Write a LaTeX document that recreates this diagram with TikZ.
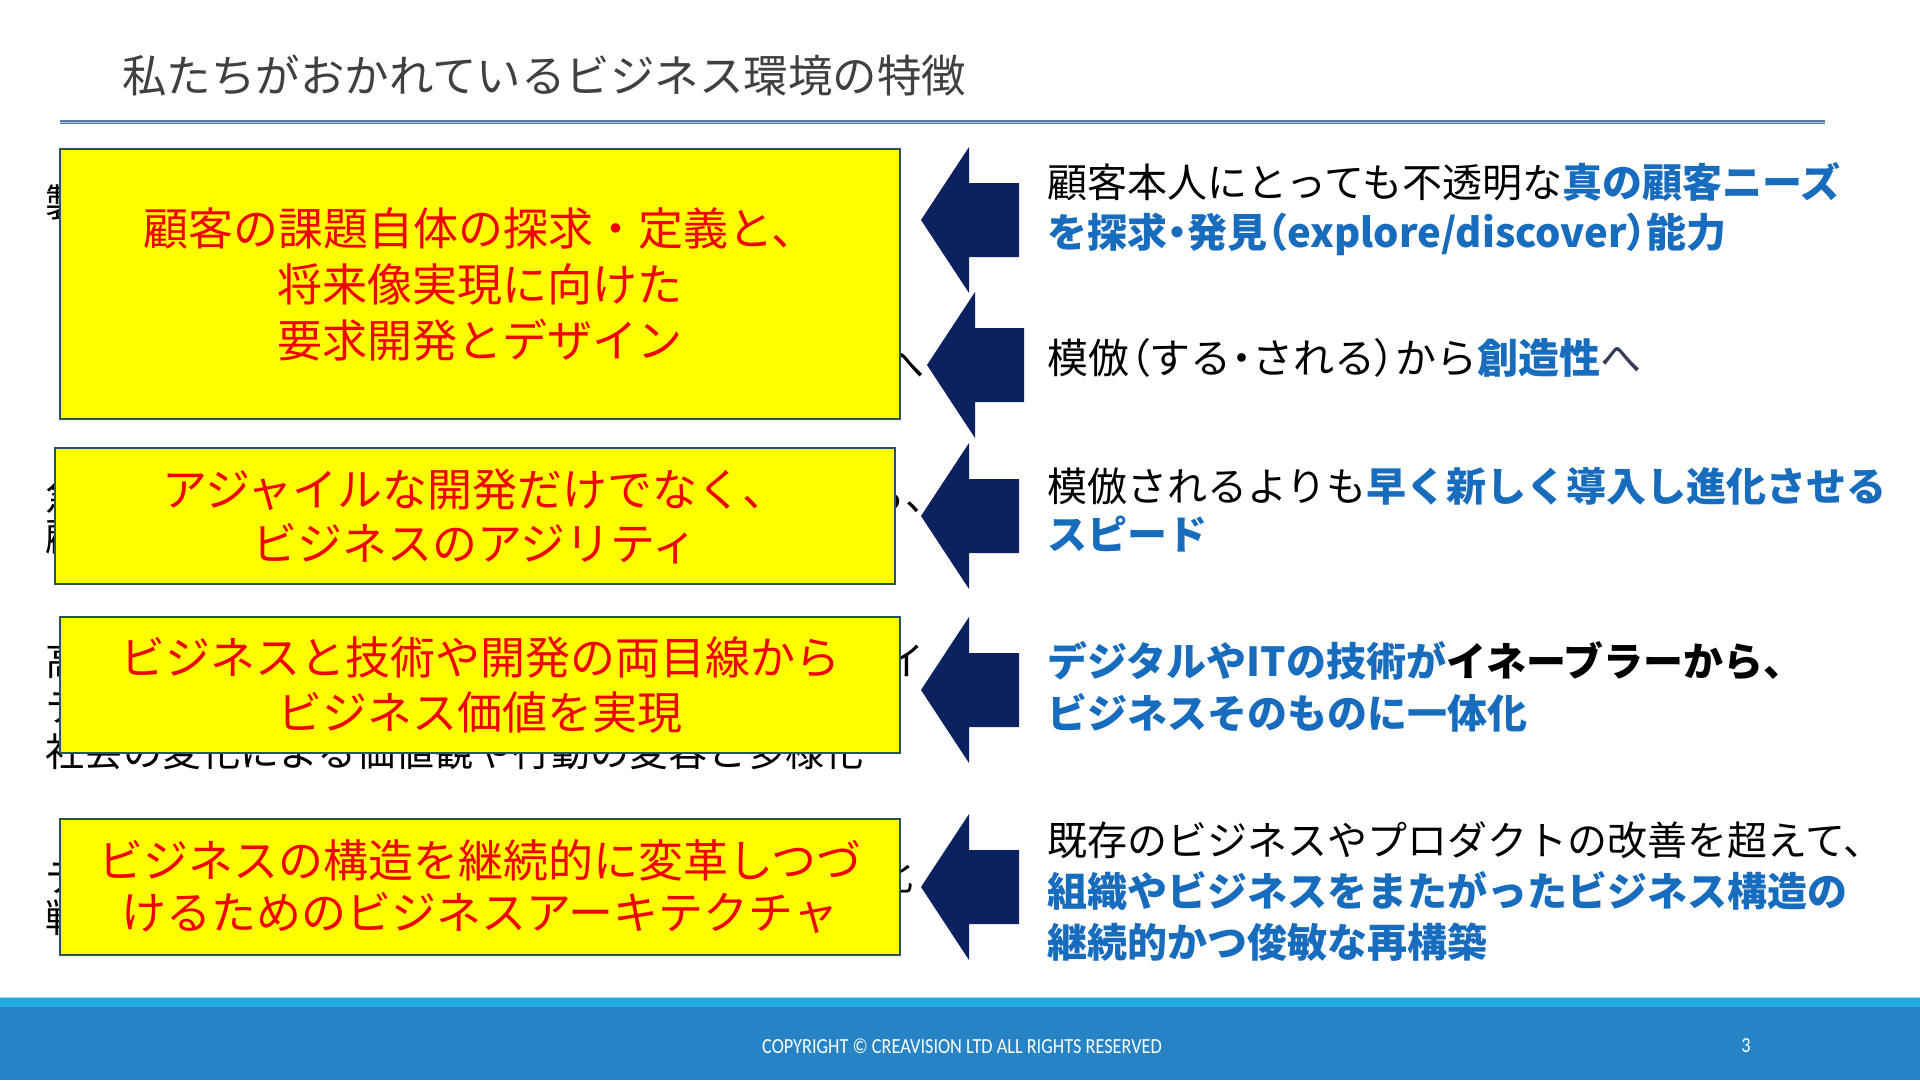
\documentclass[tikz,border=0pt]{standalone}
\usepackage{fontspec}
\setmainfont{Noto Sans CJK JP}
\newfontfamily\footfont{Carlito}[FakeStretch=0.85]
\definecolor{navy}{RGB}{11,33,96}
\definecolor{ylw}{RGB}{255,255,0}
\definecolor{boxline}{RGB}{40,85,85}
\definecolor{rtxt}{RGB}{240,0,0}
\definecolor{bl}{RGB}{23,108,189}
\definecolor{ttl}{RGB}{64,64,64}
\definecolor{rulec}{RGB}{80,125,165}
\definecolor{foot}{RGB}{38,132,198}
\definecolor{footlt}{RGB}{31,171,226}
\definecolor{slate}{RGB}{55,60,90}
\tikzset{
  frag/.style={inner sep=0pt, font=\fontsize{39}{45}\selectfont, text=black},
  ybox/.style={draw=boxline, line width=2pt, fill=ylw, text=rtxt, align=center,
     minimum width=840pt, font=\fontsize{45}{56}\selectfont, inner sep=0pt},
  rtext/.style={anchor=west, align=left, inner sep=0pt, font=\fontsize{40}{50}\selectfont, text=black},
  arr/.style={fill=navy},
  foottxt/.style={text=white, font=\footfont\fontsize{21.5}{26}\selectfont, inner sep=0pt}
}
\newcommand{\hb}[1]{\textbf{\color{bl}#1}}
\newcommand{\pn}[1]{{\addfontfeature{RawFeature=+palt}#1}}
\begin{document}
\begin{tikzpicture}[x=1pt,y=-1pt]
\useasboundingbox (0,0) rectangle (1920,1080);
\fill[white] (0,0) rectangle (1920,1080);
% title
\node[anchor=west, inner sep=0pt, text=ttl, font=\fontsize{44.5}{50}\selectfont] (title) at (122,76) {私たちがおかれているビジネス環境の特徴};
\draw[rulec, line width=4pt] (60,122) -- (1825,122);
\draw[white!55!rulec, line width=1pt] (60,122) -- (1825,122);
% hidden left text fragments
\node[frag, anchor=west] (f1) at (45,203) {製};
\node[frag] (f2) at (905,366) {へ};
\node[frag, anchor=west] (f3) at (45,496) {急};
\node[frag, anchor=west] (f4) at (866,496) {ら、};
\node[frag, anchor=west] (f5) at (45,538) {顧};
\node[frag, anchor=west] (f6) at (45,661) {高};
\node[frag, anchor=west] (f7) at (885,661) {イ};
\node[frag, anchor=west] (f8) at (45,708) {テ};
\node[frag, anchor=west] (f9) at (45,752) {社会の変化による価値観や行動の変容と多様化};
\node[frag, anchor=west] (f10) at (45,876) {デ};
\node[frag, anchor=east] (f11) at (914,876) {化};
\node[frag, anchor=west] (f12) at (45,918) {戦};
% yellow boxes
\node[ybox, minimum height=270pt] (b1) at (480,284) {顧客の課題自体の探求・定義と、\\将来像実現に向けた\\要求開発とデザイン};
\node[ybox, minimum height=136pt, font=\fontsize{45}{54}\selectfont] (b2) at (475,516) {アジャイルな開発だけでなく、\\ビジネスのアジリティ};
\node[ybox, minimum height=136pt, font=\fontsize{45}{55}\selectfont] (b3) at (480,685) {ビジネスと技術や開発の両目線から\\ビジネス価値を実現};
\node[ybox, minimum height=136pt, font=\fontsize{45}{52}\selectfont] (b4) at (480,887) {ビジネスの構造を継続的に変革しつづ\\けるためのビジネスアーキテクチャ};
% arrows
\fill[arr] (921,220) -- (969,147) -- (969,183) -- (1019,183) -- (1019,257) -- (969,257) -- (969,293) -- cycle;
\fill[arr] (927,365) -- (975,292) -- (975,328) -- (1024,328) -- (1024,402) -- (975,402) -- (975,438) -- cycle;
\fill[arr] (921,516) -- (969,443) -- (969,479) -- (1019,479) -- (1019,553) -- (969,553) -- (969,589) -- cycle;
\fill[arr] (921,690) -- (969,617) -- (969,653) -- (1019,653) -- (1019,727) -- (969,727) -- (969,763) -- cycle;
\fill[arr] (921,887) -- (969,814) -- (969,850) -- (1019,850) -- (1019,924) -- (969,924) -- (969,960) -- cycle;
% right texts
\node[rtext] (t1) at (1047,209) {顧客本人にとっても不透明な\hb{真の顧客ニーズ}\\\hb{を探求\pn{・}発見\pn{（}explore/discover\pn{）}能力}};
\node[rtext, font=\fontsize{41}{50}\selectfont] (t2) at (1047,358) {模倣\pn{（}する\pn{・}される\pn{）}から\hb{創造性}{\color{slate}へ}};
\node[rtext, font=\fontsize{40}{48}\selectfont] (t3) at (1047,510) {模倣されるよりも\hb{早く新しく導入し進化させる}\\\hb{スピード}};
\node[rtext, font=\fontsize{40}{52}\selectfont] (t4) at (1047,687) {\hb{デジタルやITの技術が}\textbf{イネーブラーから、}\\\hb{ビジネスそのものに一体化}};
\node[rtext, font=\fontsize{40}{51}\selectfont] (t5) at (1047,892) {既存のビジネスやプロダクトの改善を超えて、\\\hb{組織やビジネスをまたがったビジネス構造の}\\\hb{継続的かつ俊敏な再構築}};
% footer
\fill[footlt] (0,997) rectangle (1920,1007);
\draw[white!60!footlt, line width=1pt] (0,997.5) -- (1920,997.5);
\fill[foot] (0,1007) rectangle (1920,1080);
\node[foottxt, anchor=west] (copy) at (762,1046) {COPYRIGHT © CREAVISION LTD ALL RIGHTS RESERVED};
\node[foottxt] (pg) at (1746,1046) {3};
\end{tikzpicture}
\end{document}
